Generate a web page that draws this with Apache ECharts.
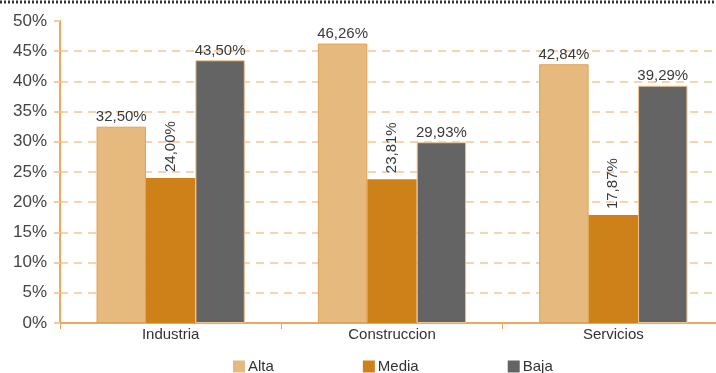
<!DOCTYPE html>
<html><head><meta charset="utf-8">
<script src="https://cdn.jsdelivr.net/npm/echarts@6/dist/echarts.min.js"></script>
<style>html,body{margin:0;padding:0;background:#fff;overflow:hidden}#c{width:724px;height:373px}</style>
</head><body><div id="c"></div>
<script>
const categories = ['Industria', 'Construccion', 'Servicios'];
const seriesNames = ['Alta', 'Media', 'Baja'];
const alta = [32.50, 46.26, 42.84];
const media = [24.00, 23.81, 17.87];
const baja = [43.50, 29.93, 39.29];
const yTicks = [0, 5, 10, 15, 20, 25, 30, 35, 40, 45, 50];

const font = 'Liberation Sans, Arial, sans-serif';
const fmt = v => v.toFixed(2).replace('.', ',') + '%';
const chart = echarts.init(document.getElementById('c'));
const baseLabel = {show: true, position: 'top', color: '#3a3a3a', fontSize: 15, fontFamily: font, distance: 2,
  formatter: p => fmt(p.value)};
chart.setOption({
  animation: false,
  grid: {left: 60, top: 21, right: 0, bottom: 50, containLabel: false},
  legend: {top: 354, left: 228, itemWidth: 12, itemHeight: 12, itemGap: 89, icon: 'rect',
    itemStyle: {borderWidth: 0},
    textStyle: {fontFamily: font, fontSize: 15, color: '#333', padding: [0,0,0,-2]},
    data: seriesNames},
  xAxis: {type: 'category', data: categories,
    axisLine: {lineStyle: {color: '#E9A95E', width: 2}},
    axisTick: {show: true, length: 6, lineStyle: {color: '#E9A95E', width: 1}},
    axisLabel: {color: '#333', fontSize: 15, fontFamily: font, margin: 4}},
  yAxis: {type: 'value', min: yTicks[0], max: yTicks[yTicks.length-1], interval: 5,
    axisLine: {show: true, lineStyle: {color: '#E9A95E', width: 2}},
    axisTick: {show: true, length: 6, lineStyle: {color: '#F3CB9C', width: 2}},
    axisLabel: {color: '#444', fontSize: 17, fontFamily: font, margin: 13, formatter: v => v + '%'},
    splitLine: {show: true, showMaxLine: false, lineStyle: {color: '#F6D4AD', width: 2, type: [8, 6]}}},
  series: [
    {name: 'Alta', type: 'bar', data: alta, barGap: '0%', barCategoryGap: '33%',
      itemStyle: {color: '#E6B97E', borderColor: '#E1A253', borderWidth: 1}, label: baseLabel},
    {name: 'Media', type: 'bar', data: media,
      itemStyle: {color: '#CF8119'},
      label: Object.assign({}, baseLabel, {rotate: 90, align: 'left', verticalAlign: 'middle', distance: 6})},
    {name: 'Baja', type: 'bar', data: baja,
      itemStyle: {color: '#646464', borderColor: '#F0C48F', borderWidth: 1}, label: baseLabel}
  ],
  graphic: [{type: 'line', shape: {x1: 0, y1: 2, x2: 724, y2: 2},
    style: {stroke: '#333', lineWidth: 3, lineDash: [2, 2]}}]
});
</script></body></html>
